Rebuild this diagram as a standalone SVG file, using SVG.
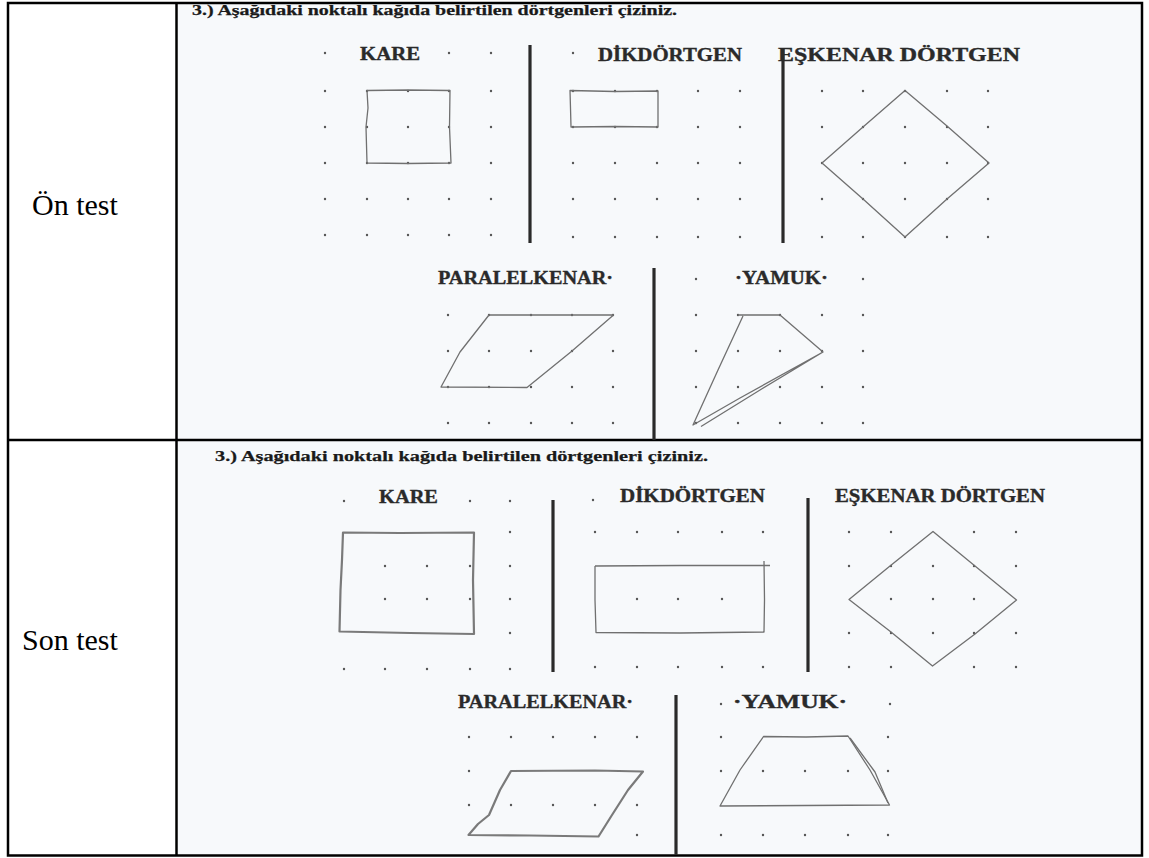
<svg xmlns="http://www.w3.org/2000/svg" width="1149" height="858" viewBox="0 0 1149 858">
<defs>
<style>
.lbl{font-family:"Liberation Serif","Times New Roman",serif;font-size:30px;fill:#000}
.ttl{font-family:"Liberation Serif","Times New Roman",serif;font-weight:bold;font-size:15px;fill:#1a1a1a;stroke:#1a1a1a;stroke-width:0.25}
.hd{font-family:"Liberation Serif","Times New Roman",serif;font-weight:bold;font-size:18px;fill:#2a2a2a;stroke:#2a2a2a;stroke-width:0.35}
.bar{stroke:#2a2a2a;stroke-width:3.2;fill:none}
.d{fill:#555}
.s1{fill:none;stroke:#707070;stroke-width:1.3;stroke-linejoin:round}
.s2{fill:none;stroke:#7a7a7a;stroke-width:2.2;stroke-linejoin:round}
.grid{stroke:#000;stroke-width:2.5;fill:none}
</style>
</defs>
<rect width="1149" height="858" fill="#fff"/>
<rect x="178" y="4" width="963" height="435" fill="#f7f9fb"/>
<rect x="178" y="441" width="963" height="413" fill="#f7f9fb"/>

<g id="table" class="grid">
<rect x="8" y="3" width="1134" height="852.5"/>
<line x1="176.5" y1="3" x2="176.5" y2="855.5"/>
<line x1="8" y1="440" x2="1142" y2="440"/>
</g>

<g id="row-labels">
<text class="lbl" x="32" y="215">Ön test</text>
<text class="lbl" x="22" y="650">Son test</text>
</g>

<!-- ÖN TEST -->
<g id="on-test">
<text class="ttl" x="192" y="15" textLength="485" lengthAdjust="spacingAndGlyphs">3.)  Aşağıdaki noktalı kağıda belirtilen dörtgenleri çiziniz.</text>
<text class="hd" x="360" y="60" textLength="60" lengthAdjust="spacingAndGlyphs">KARE</text>
<text class="hd" x="598" y="61" textLength="144" lengthAdjust="spacingAndGlyphs">DİKDÖRTGEN</text>
<text class="hd" x="778" y="61" textLength="242" lengthAdjust="spacingAndGlyphs">EŞKENAR DÖRTGEN</text>
<text class="hd" x="438" y="284" textLength="175" lengthAdjust="spacingAndGlyphs">PARALELKENAR·</text>
<text class="hd" x="735" y="284" textLength="93" lengthAdjust="spacingAndGlyphs">·YAMUK·</text>
<line class="bar" x1="530" y1="45" x2="530" y2="243"/>
<line class="bar" x1="783" y1="48" x2="783" y2="243"/>
<line class="bar" x1="654" y1="268" x2="654" y2="440"/>
<g id="on-dots">
<circle class="d" cx="325" cy="53" r="1.2"/><circle class="d" cx="449" cy="53" r="1.2"/><circle class="d" cx="491" cy="53" r="1.2"/>
<circle class="d" cx="325" cy="91" r="1.2"/><circle class="d" cx="367" cy="91" r="1.2"/><circle class="d" cx="408" cy="91" r="1.2"/><circle class="d" cx="449" cy="91" r="1.2"/><circle class="d" cx="491" cy="91" r="1.2"/>
<circle class="d" cx="325" cy="127" r="1.2"/><circle class="d" cx="367" cy="127" r="1.2"/><circle class="d" cx="408" cy="127" r="1.2"/><circle class="d" cx="449" cy="127" r="1.2"/><circle class="d" cx="491" cy="127" r="1.2"/>
<circle class="d" cx="325" cy="163" r="1.2"/><circle class="d" cx="367" cy="163" r="1.2"/><circle class="d" cx="408" cy="163" r="1.2"/><circle class="d" cx="449" cy="163" r="1.2"/><circle class="d" cx="491" cy="163" r="1.2"/>
<circle class="d" cx="325" cy="199" r="1.2"/><circle class="d" cx="367" cy="199" r="1.2"/><circle class="d" cx="408" cy="199" r="1.2"/><circle class="d" cx="449" cy="199" r="1.2"/><circle class="d" cx="491" cy="199" r="1.2"/>
<circle class="d" cx="325" cy="235" r="1.2"/><circle class="d" cx="367" cy="235" r="1.2"/><circle class="d" cx="408" cy="235" r="1.2"/><circle class="d" cx="449" cy="235" r="1.2"/><circle class="d" cx="491" cy="235" r="1.2"/>
<circle class="d" cx="573" cy="53" r="1.2"/>
<circle class="d" cx="573" cy="91" r="1.2"/><circle class="d" cx="615" cy="91" r="1.2"/><circle class="d" cx="657" cy="91" r="1.2"/><circle class="d" cx="698" cy="91" r="1.2"/><circle class="d" cx="740" cy="91" r="1.2"/>
<circle class="d" cx="573" cy="127" r="1.2"/><circle class="d" cx="615" cy="127" r="1.2"/><circle class="d" cx="657" cy="127" r="1.2"/><circle class="d" cx="698" cy="127" r="1.2"/><circle class="d" cx="740" cy="127" r="1.2"/>
<circle class="d" cx="573" cy="163" r="1.2"/><circle class="d" cx="615" cy="163" r="1.2"/><circle class="d" cx="657" cy="163" r="1.2"/><circle class="d" cx="698" cy="163" r="1.2"/><circle class="d" cx="740" cy="163" r="1.2"/>
<circle class="d" cx="573" cy="199" r="1.2"/><circle class="d" cx="615" cy="199" r="1.2"/><circle class="d" cx="657" cy="199" r="1.2"/><circle class="d" cx="698" cy="199" r="1.2"/><circle class="d" cx="740" cy="199" r="1.2"/>
<circle class="d" cx="573" cy="237" r="1.2"/><circle class="d" cx="615" cy="237" r="1.2"/><circle class="d" cx="657" cy="237" r="1.2"/><circle class="d" cx="698" cy="237" r="1.2"/><circle class="d" cx="740" cy="237" r="1.2"/>
<circle class="d" cx="822" cy="91" r="1.2"/><circle class="d" cx="863" cy="91" r="1.2"/><circle class="d" cx="905" cy="91" r="1.2"/><circle class="d" cx="947" cy="91" r="1.2"/><circle class="d" cx="988" cy="91" r="1.2"/>
<circle class="d" cx="822" cy="127" r="1.2"/><circle class="d" cx="863" cy="127" r="1.2"/><circle class="d" cx="905" cy="127" r="1.2"/><circle class="d" cx="947" cy="127" r="1.2"/><circle class="d" cx="988" cy="127" r="1.2"/>
<circle class="d" cx="822" cy="163" r="1.2"/><circle class="d" cx="863" cy="163" r="1.2"/><circle class="d" cx="905" cy="163" r="1.2"/><circle class="d" cx="947" cy="163" r="1.2"/><circle class="d" cx="988" cy="163" r="1.2"/>
<circle class="d" cx="822" cy="199" r="1.2"/><circle class="d" cx="863" cy="199" r="1.2"/><circle class="d" cx="905" cy="199" r="1.2"/><circle class="d" cx="947" cy="199" r="1.2"/><circle class="d" cx="988" cy="199" r="1.2"/>
<circle class="d" cx="822" cy="237" r="1.2"/><circle class="d" cx="863" cy="237" r="1.2"/><circle class="d" cx="905" cy="237" r="1.2"/><circle class="d" cx="947" cy="237" r="1.2"/><circle class="d" cx="988" cy="237" r="1.2"/>
<circle class="d" cx="448" cy="315" r="1.2"/><circle class="d" cx="489" cy="315" r="1.2"/><circle class="d" cx="531" cy="315" r="1.2"/><circle class="d" cx="572" cy="315" r="1.2"/><circle class="d" cx="613" cy="315" r="1.2"/>
<circle class="d" cx="448" cy="351" r="1.2"/><circle class="d" cx="489" cy="351" r="1.2"/><circle class="d" cx="531" cy="351" r="1.2"/><circle class="d" cx="572" cy="351" r="1.2"/><circle class="d" cx="613" cy="351" r="1.2"/>
<circle class="d" cx="448" cy="387" r="1.2"/><circle class="d" cx="489" cy="387" r="1.2"/><circle class="d" cx="531" cy="387" r="1.2"/><circle class="d" cx="572" cy="387" r="1.2"/><circle class="d" cx="613" cy="387" r="1.2"/>
<circle class="d" cx="448" cy="423" r="1.2"/><circle class="d" cx="489" cy="423" r="1.2"/><circle class="d" cx="531" cy="423" r="1.2"/><circle class="d" cx="572" cy="423" r="1.2"/><circle class="d" cx="613" cy="423" r="1.2"/>
<circle class="d" cx="696" cy="279" r="1.2"/><circle class="d" cx="863" cy="279" r="1.2"/>
<circle class="d" cx="696" cy="315" r="1.2"/><circle class="d" cx="738" cy="315" r="1.2"/><circle class="d" cx="780" cy="315" r="1.2"/><circle class="d" cx="822" cy="315" r="1.2"/><circle class="d" cx="863" cy="315" r="1.2"/>
<circle class="d" cx="696" cy="351" r="1.2"/><circle class="d" cx="738" cy="351" r="1.2"/><circle class="d" cx="780" cy="351" r="1.2"/><circle class="d" cx="822" cy="351" r="1.2"/><circle class="d" cx="863" cy="351" r="1.2"/>
<circle class="d" cx="696" cy="387" r="1.2"/><circle class="d" cx="738" cy="387" r="1.2"/><circle class="d" cx="780" cy="387" r="1.2"/><circle class="d" cx="822" cy="387" r="1.2"/><circle class="d" cx="863" cy="387" r="1.2"/>
<circle class="d" cx="696" cy="423" r="1.2"/><circle class="d" cx="738" cy="423" r="1.2"/><circle class="d" cx="780" cy="423" r="1.2"/><circle class="d" cx="822" cy="423" r="1.2"/><circle class="d" cx="863" cy="423" r="1.2"/>
</g>
<g id="on-shapes">
<path class="s1" d="M367 90.5 L408 90 L450 90.5 L449.5 127 L451 163 L408 163.5 L367 163 L366 127 L368 108 Z"/>
<path class="s1" d="M570 90.5 L615 91.5 L658 91 L658 127 L615 126.5 L571 127 L570.5 108 Z"/>
<path class="s1" d="M905 90.5 L947 126 L989 163 L947 199 L905 237 L863 199 L822 163 L863 127 Z"/>
<path class="s1" d="M489 315 L613.5 315 L572 351 L527 387.5 L441 387 L460 352 Z"/>
<path class="s1" d="M738 315 L780 315 L823 352 L760 390 L701 426.5 M823 352 L740 398 L693 425 L718 370 L743 316"/>
</g>
</g>

<!-- SON TEST -->
<g id="son-test">
<text class="ttl" x="215" y="461" textLength="493" lengthAdjust="spacingAndGlyphs">3.)  Aşağıdaki noktalı kağıda belirtilen dörtgenleri çiziniz.</text>
<text class="hd" x="379" y="503" textLength="59" lengthAdjust="spacingAndGlyphs">KARE</text>
<text class="hd" x="620" y="502" textLength="145" lengthAdjust="spacingAndGlyphs">DİKDÖRTGEN</text>
<text class="hd" x="835" y="502" textLength="210" lengthAdjust="spacingAndGlyphs">EŞKENAR DÖRTGEN</text>
<text class="hd" x="458" y="708" textLength="175" lengthAdjust="spacingAndGlyphs">PARALELKENAR·</text>
<text class="hd" x="733" y="708" textLength="114" lengthAdjust="spacingAndGlyphs">·YAMUK·</text>
<line class="bar" x1="553" y1="500" x2="553" y2="672"/>
<line class="bar" x1="808" y1="498" x2="808" y2="672"/>
<line class="bar" x1="676" y1="695" x2="676" y2="855"/>
<g id="son-dots">
<circle class="d" cx="344" cy="501" r="1.2"/><circle class="d" cx="470" cy="501" r="1.2"/><circle class="d" cx="510" cy="501" r="1.2"/>
<circle class="d" cx="510" cy="532" r="1.2"/>
<circle class="d" cx="385" cy="566" r="1.2"/><circle class="d" cx="427" cy="566" r="1.2"/><circle class="d" cx="470" cy="566" r="1.2"/><circle class="d" cx="510" cy="566" r="1.2"/>
<circle class="d" cx="385" cy="599" r="1.2"/><circle class="d" cx="427" cy="599" r="1.2"/><circle class="d" cx="470" cy="599" r="1.2"/><circle class="d" cx="510" cy="599" r="1.2"/>
<circle class="d" cx="510" cy="633" r="1.2"/>
<circle class="d" cx="344" cy="669" r="1.2"/><circle class="d" cx="385" cy="669" r="1.2"/><circle class="d" cx="427" cy="669" r="1.2"/><circle class="d" cx="470" cy="669" r="1.2"/><circle class="d" cx="510" cy="669" r="1.2"/>
<circle class="d" cx="593" cy="500" r="1.2"/>
<circle class="d" cx="595" cy="532" r="1.2"/><circle class="d" cx="637" cy="532" r="1.2"/><circle class="d" cx="678" cy="532" r="1.2"/><circle class="d" cx="722" cy="532" r="1.2"/><circle class="d" cx="763" cy="532" r="1.2"/>
<circle class="d" cx="637" cy="599" r="1.2"/><circle class="d" cx="678" cy="599" r="1.2"/><circle class="d" cx="722" cy="599" r="1.2"/>
<circle class="d" cx="595" cy="667" r="1.2"/><circle class="d" cx="637" cy="667" r="1.2"/><circle class="d" cx="678" cy="667" r="1.2"/><circle class="d" cx="722" cy="667" r="1.2"/><circle class="d" cx="763" cy="667" r="1.2"/>
<circle class="d" cx="849" cy="532" r="1.2"/><circle class="d" cx="891" cy="532" r="1.2"/><circle class="d" cx="974" cy="532" r="1.2"/><circle class="d" cx="1016" cy="532" r="1.2"/>
<circle class="d" cx="849" cy="566" r="1.2"/><circle class="d" cx="891" cy="566" r="1.2"/><circle class="d" cx="933" cy="566" r="1.2"/><circle class="d" cx="974" cy="566" r="1.2"/><circle class="d" cx="1016" cy="566" r="1.2"/>
<circle class="d" cx="891" cy="599" r="1.2"/><circle class="d" cx="933" cy="599" r="1.2"/><circle class="d" cx="974" cy="599" r="1.2"/>
<circle class="d" cx="849" cy="633" r="1.2"/><circle class="d" cx="891" cy="633" r="1.2"/><circle class="d" cx="933" cy="633" r="1.2"/><circle class="d" cx="974" cy="633" r="1.2"/><circle class="d" cx="1016" cy="633" r="1.2"/>
<circle class="d" cx="849" cy="667" r="1.2"/><circle class="d" cx="891" cy="667" r="1.2"/><circle class="d" cx="974" cy="667" r="1.2"/><circle class="d" cx="1016" cy="667" r="1.2"/>
<circle class="d" cx="469" cy="737" r="1.2"/><circle class="d" cx="511" cy="737" r="1.2"/><circle class="d" cx="553" cy="737" r="1.2"/><circle class="d" cx="595" cy="737" r="1.2"/><circle class="d" cx="637" cy="737" r="1.2"/>
<circle class="d" cx="469" cy="771" r="1.2"/>
<circle class="d" cx="469" cy="805" r="1.2"/><circle class="d" cx="511" cy="805" r="1.2"/><circle class="d" cx="553" cy="805" r="1.2"/><circle class="d" cx="595" cy="805" r="1.2"/><circle class="d" cx="637" cy="805" r="1.2"/>
<circle class="d" cx="637" cy="835" r="1.2"/>
<circle class="d" cx="721" cy="704" r="1.2"/><circle class="d" cx="890" cy="704" r="1.2"/>
<circle class="d" cx="721" cy="737" r="1.2"/><circle class="d" cx="888" cy="737" r="1.2"/>
<circle class="d" cx="721" cy="771" r="1.2"/><circle class="d" cx="763" cy="771" r="1.2"/><circle class="d" cx="805" cy="771" r="1.2"/><circle class="d" cx="848" cy="771" r="1.2"/><circle class="d" cx="888" cy="771" r="1.2"/>
<circle class="d" cx="721" cy="835" r="1.2"/><circle class="d" cx="763" cy="835" r="1.2"/><circle class="d" cx="805" cy="835" r="1.2"/><circle class="d" cx="848" cy="835" r="1.2"/><circle class="d" cx="888" cy="835" r="1.2"/>
</g>
<g id="son-shapes">
<path class="s2" d="M343 532.5 L400 533 L474 532.5 L473 580 L474 634 L410 633 L339.5 631.5 L340.5 590 L342 560 Z"/>
<path class="s1" d="M595 566 L680 565.5 L770 565.5"/>
<path class="s1" d="M764 561 L764.5 600 L764 632 L680 633 L596 632.5 L595 600 L595 566"/>
<path class="s1" d="M933 531.5 L975 566 L1016.5 600 L975 634 L932.5 666 L891 632 L849 599.5 L890 566 Z"/>
<path class="s2" d="M511 771 L595 770.5 L643 771.5 L628 790 L612 815 L598.5 836.5 L530 835.5 L468.5 835 L478 824 L489 815 L500 790 Z"/>
<path class="s1" d="M763.5 736.5 L806 737 L848 736 L870 770 L889.5 805 L805 805.5 L720 806 L740 770 Z"/>
<path class="s1" d="M850 738 L875 772 L888 803"/>
</g>
</g>
</svg>
